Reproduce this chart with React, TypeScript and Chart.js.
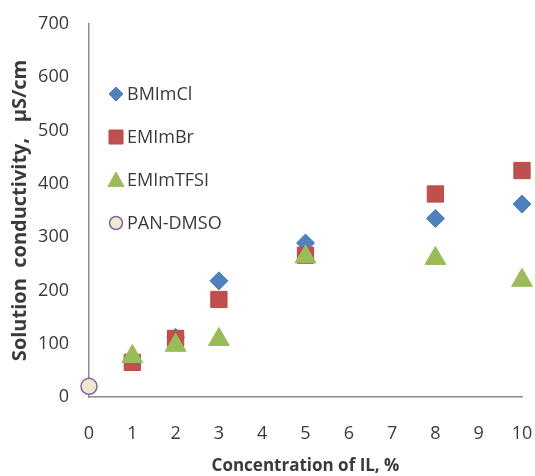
import React, { useEffect, useRef } from "react";
import { Chart, registerables } from "chart.js";

Chart.register(...registerables);

const concentrations = [1, 2, 3, 5, 8, 10];
const bmimcl = [68, 112, 218, 289, 335, 362];
const emimbr = [65, 110, 183, 266, 381, 425];
const emimtfsi = [76, 97, 108, 263, 260, 219];
const panX = [0];
const panDmso = [20];

const seriesNames = ["BMImCl", "EMImBr", "EMImTFSI", "PAN-DMSO"];
const xTicks = [0, 1, 2, 3, 4, 5, 6, 7, 8, 9, 10];
const yTicks = [0, 100, 200, 300, 400, 500, 600, 700];

const FONT = "'Open Sans', 'DejaVu Sans', sans-serif";
const TEXT = "#3a3a3a";

function drawMarker(ctx: CanvasRenderingContext2D, style: string, x: number, y: number, r: number) {
  ctx.beginPath();
  if (style === "rectRot") {
    ctx.moveTo(x, y - r);
    ctx.lineTo(x + r, y);
    ctx.lineTo(x, y + r);
    ctx.lineTo(x - r, y);
    ctx.closePath();
  } else if (style === "rect") {
    ctx.rect(x - r, y - r, 2 * r, 2 * r);
  } else if (style === "triangle") {
    ctx.moveTo(x, y - r);
    ctx.lineTo(x + r, y + r * 0.8);
    ctx.lineTo(x - r, y + r * 0.8);
    ctx.closePath();
  } else {
    ctx.arc(x, y, r, 0, Math.PI * 2);
  }
  ctx.fill();
  ctx.stroke();
}

const legendPlugin = {
  id: "insideLegend",
  afterDraw(chart: any) {
    const ctx = chart.ctx;
    const area = chart.chartArea;
    const x0 = area.left + 27;
    const y0 = area.top + 70;
    const step = 43;
    ctx.save();
    chart.data.datasets.forEach((ds: any, i: number) => {
      const y = y0 + i * step;
      ctx.fillStyle = ds.backgroundColor;
      ctx.strokeStyle = ds.borderColor;
      ctx.lineWidth = ds.borderWidth;
      drawMarker(ctx, ds.pointStyle, x0, y, ds.legendRadius);
      ctx.fillStyle = TEXT;
      ctx.font = `18px ${FONT}`;
      ctx.textBaseline = "middle";
      ctx.textAlign = "left";
      ctx.fillText(seriesNames[i], x0 + 11, y + 1);
    });
    ctx.restore();
  },
};

export default function App() {
  const ref = useRef<HTMLCanvasElement>(null);
  useEffect(() => {
    if (!ref.current) return;
    const toPts = (xs: number[], ys: number[]) => xs.map((x, i) => ({ x, y: ys[i] }));
    const chart = new Chart(ref.current, {
      type: "scatter",
      data: {
        datasets: [
          {
            label: seriesNames[0],
            data: toPts(concentrations, bmimcl),
            pointStyle: "rectRot",
            pointRadius: 9,
            backgroundColor: "#4F81BD",
            borderColor: "#4A7DBA",
            borderWidth: 1,
            legendRadius: 7,
            order: 3,
            clip: false,
          } as any,
          {
            label: seriesNames[1],
            data: toPts(concentrations, emimbr),
            pointStyle: "rect",
            pointRadius: 11.5,
            backgroundColor: "#C0504D",
            borderColor: "#B84A47",
            borderWidth: 1,
            legendRadius: 7,
            order: 2,
            clip: false,
          } as any,
          {
            label: seriesNames[2],
            data: toPts(concentrations, emimtfsi),
            pointStyle: "triangle",
            pointRadius: 12,
            backgroundColor: "#9BBB59",
            borderColor: "#9BBB59",
            borderWidth: 1,
            legendRadius: 8,
            order: 1,
            clip: false,
          } as any,
          {
            label: seriesNames[3],
            data: toPts(panX, panDmso),
            pointStyle: "circle",
            pointRadius: 8,
            backgroundColor: "#EEEAD0",
            borderColor: "#8064A2",
            borderWidth: 1.5,
            legendRadius: 6.5,
            order: 0,
            clip: false,
          } as any,
        ],
      },
      options: {
        animation: false,
        responsive: false,
        maintainAspectRatio: false,
        layout: { autoPadding: false, padding: { top: 24, right: 13, left: 0, bottom: 0 } },
        plugins: { legend: { display: false }, tooltip: { enabled: false } },
        scales: {
          x: {
            type: "linear",
            min: 0,
            max: 10,
            afterBuildTicks: (s: any) => {
              s.ticks = xTicks.map((v) => ({ value: v }));
            },
            grid: { display: false },
            border: { display: true, color: "#8C8C8C", width: 1.5 },
            ticks: { color: TEXT, font: { family: FONT, size: 18 }, padding: 18 },
            title: {
              display: true,
              text: "Concentration of IL, %",
              color: TEXT,
              font: { family: FONT, size: 17, weight: "bold" },
              padding: { top: 6, bottom: 0 },
            },
            afterFit: (s: any) => {
              s.height = 79;
              s.paddingLeft = 0;
              s.paddingRight = 0;
            },
          },
          y: {
            type: "linear",
            min: 0,
            max: 700,
            afterBuildTicks: (s: any) => {
              s.ticks = yTicks.map((v) => ({ value: v }));
            },
            grid: { display: false },
            border: { display: true, color: "#8C8C8C", width: 1.5 },
            ticks: { color: TEXT, font: { family: FONT, size: 18 }, padding: 12 },
            title: {
              display: true,
              text: "Solution  conductivity,   µS/cm",
              color: TEXT,
              font: { family: FONT, size: 20, weight: "bold" },
              padding: { top: 8, bottom: 0 },
            },
            afterFit: (s: any) => {
              s.width = 89;
              s.paddingTop = 0;
              s.paddingBottom = 0;
            },
          },
        },
      } as any,
      plugins: [legendPlugin],
    });
    return () => chart.destroy();
  }, []);
  return (
    <div style={{ position: "fixed", left: 0, top: 0, width: 535, height: 476, background: "#fff" }}>
      <canvas ref={ref} width={535} height={476} style={{ width: 535, height: 476, display: "block" }} />
    </div>
  );
}
